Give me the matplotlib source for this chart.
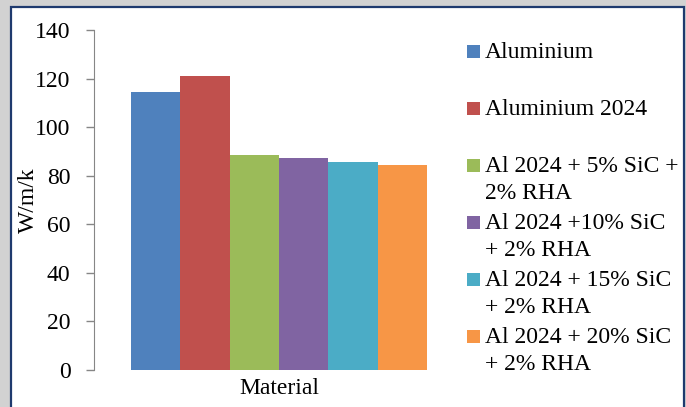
import matplotlib
matplotlib.use("Agg")
import matplotlib.pyplot as plt
from matplotlib.patches import Rectangle


materials = [
    "Aluminium",
    "Aluminium 2024",
    "Al 2024 + 5% SiC +\n2% RHA",
    "Al 2024 +10% SiC\n+ 2% RHA",
    "Al 2024 + 15% SiC\n+ 2% RHA",
    "Al 2024 + 20% SiC\n+ 2% RHA",
]
conductivity = [114.3, 121.2, 88.7, 87.1, 85.8, 84.3]
colors = ["#4F81BD", "#C0504D", "#9BBB59", "#8064A2", "#4BACC6", "#F79646"]
y_ticks = [0, 20, 40, 60, 80, 100, 120, 140]

plt.rcParams["font.family"] = "serif"
plt.rcParams["font.serif"] = ["Liberation Serif", "DejaVu Serif"]
FS = 17
W, H = 686, 407

fig = plt.figure(figsize=(W / 100, H / 100), dpi=100, facecolor="#d2d2d2")

# white chart area with a dark blue border
fig.add_artist(Rectangle((11 / W, -0.05), (684 - 11) / W, 1.05 - 7 / H,
                         transform=fig.transFigure, facecolor="white",
                         edgecolor="#1F3A6E", linewidth=1.6, zorder=0))

ax = fig.add_axes([94 / W, 37 / H, (464 - 94) / W, (370 - 30) / H])
ax.set_facecolor("none")

n = len(materials)
group = 0.8
width = group / n
for i, (val, col) in enumerate(zip(conductivity, colors)):
    ax.bar(-group / 2 + width * (i + 0.5), val, width=width, color=col,
           linewidth=0)

ax.set_xlim(-0.5, 0.5)
ax.set_ylim(0, 140)
ax.set_yticks(y_ticks)
ax.set_xticks([])
ax.tick_params(axis="y", length=6, width=1, color="#868686", pad=11,
               labelsize=FS)
for side in ["top", "right", "bottom"]:
    ax.spines[side].set_visible(False)
ax.spines["left"].set_color("#868686")

ax.set_xlabel("Material", fontsize=FS, labelpad=6)
ax.set_ylabel("W/m/k", fontsize=FS)
ax.yaxis.set_label_coords(-0.15, 0.5)

# legend: square keys next to the first line of each label
for i, (name, col) in enumerate(zip(materials, colors)):
    base = 58 + 57 * i
    fig.add_artist(Rectangle((467 / W, 1 - base / H), 13 / W, 13 / H,
                             transform=fig.transFigure, facecolor=col,
                             linewidth=0))
    for j, line in enumerate(name.split("\n")):
        fig.text(485 / W, 1 - (base + 27 * j) / H, line, fontsize=FS,
                 ha="left", va="baseline")

fig.savefig("out.png", dpi=100, facecolor=fig.get_facecolor())
